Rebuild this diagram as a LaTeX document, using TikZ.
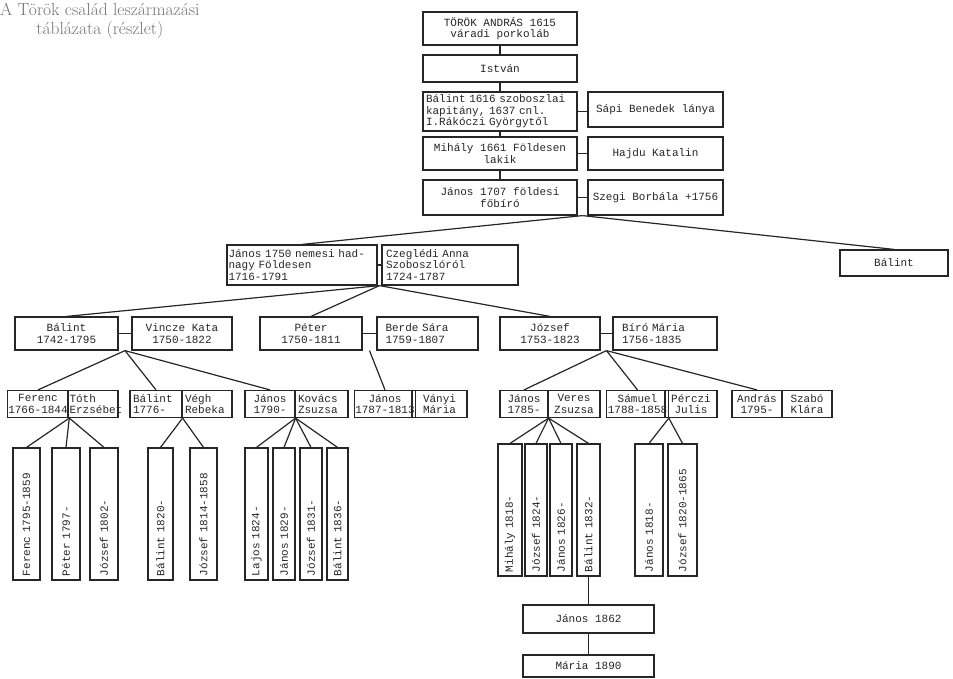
\documentclass[tikz,border=0pt]{standalone}
\usepackage{fontspec}
\setmonofont{Liberation Mono}
\usetikzlibrary{calc}

\begin{document}
\begin{tikzpicture}[x=1pt,y=-1pt,
    box/.style={draw=black!85, line width=1.2pt, inner sep=1pt, text=black!85,
      font=\ttfamily\fontsize{11}{11.5}\selectfont, align=center},
    vbox/.style={box, rotate=90, minimum width=132, text width=124, align=left},
    link/.style={draw=black!85, line width=1.2pt}]
    \useasboundingbox (0,0) rectangle (953,678);
    \node[anchor=north west, align=center, text=black!55, inner sep=0pt,
      font=\rmfamily\fontsize{17.5}{19}\selectfont] (title) at (0,3)
      {A Török család leszármazási\\táblázata (részlet)};
    % fo ag
    \node[box, minimum width=154, minimum height=33] (torok) at (500,28.5) {TÖRÖK ANDRÁS 1615\\váradi porkoláb};
    \node[box, minimum width=154, minimum height=27] (istvan) at (500,68.5) {István};
    \node[box, minimum width=154, minimum height=39, text width=148, align=left] (balint1616) at (500,111.5) {Bálint 1616 szoboszlai\\kapitány, 1637 cnl.\\I.Rákóczi Györgytől};
    \node[box, minimum width=135, minimum height=35] (sapi) at (655.5,109.5) {Sápi Benedek lánya};
    \node[box, minimum width=154, minimum height=33] (mihaly) at (500,153.5) {Mihály 1661 Földesen\\lakik};
    \node[box, minimum width=135, minimum height=33] (hajdu) at (655.5,153.5) {Hajdu Katalin};
    \node[box, minimum width=154, minimum height=35] (janos1707) at (500,197.5) {János 1707 földesi\\főbíró};
    \node[box, minimum width=135, minimum height=35] (szegi) at (655.5,197.5) {Szegi Borbála +1756};
    \draw[link] (torok.south) -- (istvan.north);
    \draw[link] (istvan.south) -- (balint1616.north);
    \draw[link] (balint1616.south) -- (mihaly.north);
    \draw[link] (mihaly.south) -- (janos1707.north);
    \draw[link] (balint1616.east) -- (balint1616.east -| sapi.west);
    \draw[link] (mihaly.east) -- (hajdu.west);
    \draw[link] (janos1707.east) -- (szegi.west);
    \coordinate (j1707) at ($(janos1707.south east)!.5!(szegi.south west)$);
    %
    \node[box, minimum width=150, minimum height=40, text width=147, align=left] (janos1750) at (302,265) {János 1750 nemesi had-\\nagy Földesen\\1716-1791};
    \node[box, minimum width=136, minimum height=40, text width=128, align=left] (czegledi) at (450,265) {Czeglédi Anna\\Szoboszlóról\\1724-1787};
    \node[box, minimum width=108, minimum height=26] (balintR) at (894,263) {Bálint};
    \draw[link] (janos1750.east) -- (czegledi.west);
    \draw[link] (j1707) -- (janos1750.north);
    \draw[link] (j1707) -- (balintR.north);
    \coordinate (j1750) at ($(janos1750.south east)!.5!(czegledi.south west)$);
    %
    \node[box, minimum width=103, minimum height=33] (balint1742) at (66.5,333.5) {Bálint\\1742-1795};
    \node[box, minimum width=100, minimum height=33] (vincze) at (182,333.5) {Vincze Kata\\1750-1822};
    \node[box, minimum width=102, minimum height=33] (peter) at (311,333.5) {Péter\\1750-1811};
    \node[box, minimum width=101, minimum height=33, text width=84, align=left] (berde) at (427.5,333.5) {Berde Sára\\1759-1807};
    \node[box, minimum width=100, minimum height=33] (jozsef1753) at (550,333.5) {József\\1753-1823};
    \node[box, minimum width=104, minimum height=33, text width=86, align=left] (biro) at (665,333.5) {Bíró Mária\\1756-1835};
    \draw[link] (balint1742.east) -- (vincze.west);
    \draw[link] (peter.east) -- (berde.west);
    \draw[link] (jozsef1753.east) -- (biro.west);
    \draw[link] (j1750) -- (balint1742.north);
    \draw[link] (j1750) -- (peter.north);
    \draw[link] (j1750) -- (jozsef1753.north);
    \coordinate (jBV) at ($(balint1742.south east)!.5!(vincze.south west)$);
    \coordinate (jPB) at ($(peter.south east)!.5!(berde.south west)$);
    \coordinate (jJB) at ($(jozsef1753.south east)!.5!(biro.south west)$);
    %
    \node[box, minimum width=60, minimum height=27] (ferenc) at (38,404) {Ferenc\\1766-1844};
    \node[box, minimum width=50, minimum height=27, text width=47, align=left] (toth) at (93,404) {Tóth\\Erzsébet};
    \node[box, minimum width=52, minimum height=27, text width=46, align=left] (balint1776) at (156,404) {Bálint\\1776-};
    \node[box, minimum width=50, minimum height=27, text width=44, align=left] (vegh) at (207,404) {Végh\\Rebeka};
    \node[box, minimum width=50, minimum height=27] (janos1790) at (270,404) {János\\1790-};
    \node[box, minimum width=53, minimum height=27, text width=47, align=left] (kovacs) at (321.5,404) {Kovács\\Zsuzsa};
    \node[box, minimum width=54, minimum height=27] (janos1787) at (385,404) {János\\1787-1813};
    \node[box, minimum width=55, minimum height=27] (vanyi) at (439.5,404) {Ványi\\Mária};
    \node[box, minimum width=48, minimum height=27] (janos1785) at (524,404) {János\\1785-};
    \node[box, minimum width=52, minimum height=27] (veres) at (574,404) {Veres\\Zsuzsa};
    \node[box, minimum width=55, minimum height=27] (samuel) at (637.5,404) {Sámuel\\1788-1858};
    \node[box, minimum width=52, minimum height=27] (perczi) at (691,404) {Pérczi\\Julis};
    \node[box, minimum width=50, minimum height=27] (andras) at (757,404) {András\\1795-};
    \node[box, minimum width=50, minimum height=27] (szabo) at (807,404) {Szabó\\Klára};
    \draw[link] (jBV) -- (ferenc.north);
    \draw[link] (jBV) -- (balint1776.north);
    \draw[link] (jBV) -- (janos1790.north);
    \draw[link] (jPB) -- (janos1787.north);
    \draw[link] (jJB) -- (janos1785.north);
    \draw[link] (jJB) -- (samuel.north);
    \draw[link] (jJB) -- (andras.north);
    %
    \node[vbox, minimum height=27] (ferenc1795) at (26.5,514) {Ferenc 1795-1859};
    \node[vbox, minimum height=28] (peter1797) at (66,514) {Péter 1797-};
    \node[vbox, minimum height=28] (jozsef1802) at (104,514) {József 1802-};
    \node[vbox, minimum height=25] (balint1820) at (160.5,514) {Bálint 1820-};
    \node[vbox, minimum height=27] (jozsef1814) at (203.5,514) {József 1814-1858};
    \node[vbox, minimum height=23] (lajos1824) at (256.5,514) {Lajos 1824-};
    \node[vbox, minimum height=22] (janos1829) at (284,514) {János 1829-};
    \node[vbox, minimum height=22] (jozsef1831) at (311,514) {József 1831-};
    \node[vbox, minimum height=21] (balint1836) at (337.5,514) {Bálint 1836-};
    \node[vbox, minimum height=24] (mihaly1818) at (510,510) {Mihály 1818-};
    \node[vbox, minimum height=22] (jozsef1824) at (536,510) {József 1824-};
    \node[vbox, minimum height=22] (janos1826) at (561,510) {János 1826-};
    \node[vbox, minimum height=23] (balint1832) at (588.5,510) {Bálint 1832-};
    \node[vbox, minimum height=28] (janos1818) at (649,510) {János 1818-};
    \node[vbox, minimum height=29] (jozsef1820) at (682.5,510) {József 1820-1865};
    \draw[link] (ferenc.south east) -- (ferenc1795.east);
    \draw[link] (ferenc.south east) -- (peter1797.east);
    \draw[link] (ferenc.south east) -- (jozsef1802.east);
    \draw[link] (balint1776.south east) -- (balint1820.east);
    \draw[link] (balint1776.south east) -- (jozsef1814.east);
    \draw[link] (janos1790.south east) -- (lajos1824.east);
    \draw[link] (janos1790.south east) -- (janos1829.east);
    \draw[link] (janos1790.south east) -- (jozsef1831.east);
    \draw[link] (janos1790.south east) -- (balint1836.east);
    \draw[link] (janos1785.south east) -- (mihaly1818.east);
    \draw[link] (janos1785.south east) -- (jozsef1824.east);
    \draw[link] (janos1785.south east) -- (janos1826.east);
    \draw[link] (janos1785.south east) -- (balint1832.east);
    \draw[link] (samuel.south east) -- (janos1818.east);
    \draw[link] (samuel.south east) -- (jozsef1820.east);
    %
    \node[box, minimum width=131, minimum height=28] (janos1862) at (588.5,619) {János 1862};
    \node[box, minimum width=131, minimum height=22] (maria) at (588.5,666) {Mária 1890};
    \draw[link] (balint1832.west) -- (janos1862.north);
    \draw[link] (janos1862.south) -- (maria.north);
\end{tikzpicture}
\end{document}
